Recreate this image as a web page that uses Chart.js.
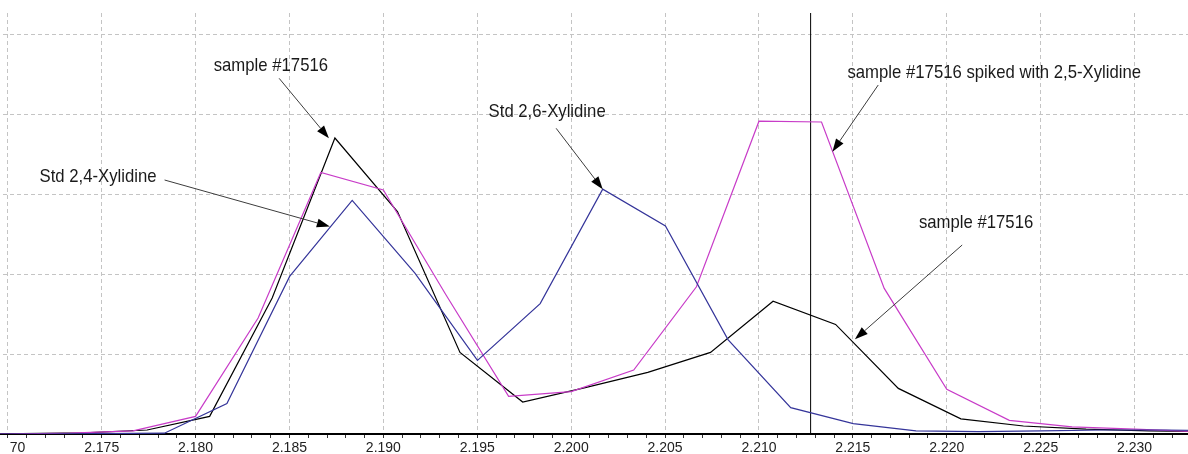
<!DOCTYPE html>
<html>
<head>
<meta charset="utf-8">
<script src="https://cdn.jsdelivr.net/npm/chart.js@4.4.1/dist/chart.umd.min.js"></script>
<style>
  html, body { margin: 0; padding: 0; background: #fff; overflow: hidden; }
  #frame { position: relative; width: 1188px; height: 454px; overflow: hidden; background: #fff; }
  #box { position: absolute; left: -60px; top: 0; width: 1308px; height: 454px; }
  #edge { position: absolute; left: 0; top: 438px; width: 9.5px; height: 16px; background: #fff; }
</style>
</head>
<body>
<div id="frame">
  <div id="box"><canvas id="c"></canvas></div>
  <div id="edge"></div>
</div>
<script>
// Retention time (min) and detector response for each trace
const sampleTimes = [2.16741, 2.17074, 2.17408, 2.17742, 2.18075, 2.18408, 2.18742, 2.19075, 2.19408, 2.19742, 2.20075,
  2.20408, 2.20742, 2.21075, 2.21408, 2.21742, 2.22075, 2.22408, 2.22742, 2.23075, 2.23408, 2.23742];
const sampleValues = [0, 0.005, 0.015, 0.05, 0.22, 1.70, 3.70, 2.78, 1.02, 0.40, 0.58,
  0.77, 1.02, 1.66, 1.37, 0.57, 0.19, 0.10, 0.06, 0.04, 0.03, 0.02];

const spikedTimes = [2.16667, 2.17000, 2.17333, 2.17667, 2.18000, 2.18333, 2.18667, 2.19000, 2.19333, 2.19667, 2.20000,
  2.20333, 2.20667, 2.21000, 2.21333, 2.21667, 2.22000, 2.22333, 2.22667, 2.23000, 2.23333];
const spikedValues = [0, 0, 0.01, 0.04, 0.22, 1.45, 3.27, 3.05, 1.74, 0.47, 0.53,
  0.80, 1.84, 3.91, 3.90, 1.82, 0.56, 0.17, 0.09, 0.06, 0.03];

const stdTimes = [2.16832, 2.17166, 2.17500, 2.17834, 2.18167, 2.18501, 2.18834, 2.19168, 2.19501, 2.19835, 2.20168,
  2.20502, 2.20835, 2.21169, 2.21502, 2.21836, 2.22169, 2.22503, 2.22836, 2.23170, 2.23503];
const stdValues = [0, 0, 0.005, 0.01, 0.38, 1.97, 2.92, 2.01, 0.92, 1.63, 3.06,
  2.60, 1.18, 0.33, 0.13, 0.04, 0.03, 0.04, 0.05, 0.05, 0.04];

// Cursor position on the time axis
const cursorTime = 2.21275;

// Axis settings
const xMin = 2.166392;
const xMax = 2.235893;
const yMax = 5.2625;
const xTickStep = 0.001;
const xLabelStep = 0.005;

// Callouts: text, text anchor (time, response), arrow start, arrow tip
const noteLabels = ['sample #17516', 'Std 2,4-Xylidine', 'Std 2,6-Xylidine',
  'sample #17516 spiked with 2,5-Xylidine', 'sample #17516'];
const noteTextAt = [[2.18401, 4.5375], [2.17481, 3.154], [2.19872, 3.966], [2.22253, 4.446], [2.22156, 2.575]];
const noteArrowFrom = [[2.18445, 4.446], [2.17835, 3.175], [2.19920, 3.821], [2.21635, 4.3625], [2.22082, 2.3625]];
const noteArrowTo = [[2.18710, 3.696], [2.18715, 2.594], [2.20168, 3.059], [2.21391, 3.529], [2.21511, 1.184]];

const pts = (ts, vs) => ts.map((t, i) => ({ x: t, y: vs[i] }));
const isMajor = v => Math.abs(v / xLabelStep - Math.round(v / xLabelStep)) < 1e-6;
const gridGrey = '#c4c4c4';

const notesPlugin = {
  id: 'notes',
  afterDatasetsDraw(chart) {
    const { ctx, scales: { x, y } } = chart;
    ctx.save();
    noteLabels.forEach((label, i) => {
      const tx = x.getPixelForValue(noteTextAt[i][0]);
      const ty = y.getPixelForValue(noteTextAt[i][1]);
      ctx.save();
      ctx.translate(tx, ty);
      ctx.scale(0.88, 1);
      ctx.font = '19px "Liberation Sans", Arial, sans-serif';
      ctx.textAlign = 'center';
      ctx.textBaseline = 'alphabetic';
      ctx.fillStyle = '#1a1a1a';
      ctx.fillText(label, 0, 0);
      ctx.restore();

      const x0 = x.getPixelForValue(noteArrowFrom[i][0]);
      const y0 = y.getPixelForValue(noteArrowFrom[i][1]);
      const x1 = x.getPixelForValue(noteArrowTo[i][0]);
      const y1 = y.getPixelForValue(noteArrowTo[i][1]);
      const ang = Math.atan2(y1 - y0, x1 - x0);
      const headLen = 13, headHalf = 4.5;
      const bx = x1 - headLen * Math.cos(ang), by = y1 - headLen * Math.sin(ang);
      ctx.strokeStyle = '#3c3c3c';
      ctx.lineWidth = 1;
      ctx.beginPath();
      ctx.moveTo(x0, y0);
      ctx.lineTo(bx, by);
      ctx.stroke();
      ctx.fillStyle = '#000';
      ctx.beginPath();
      ctx.moveTo(x1, y1);
      ctx.lineTo(bx + headHalf * Math.sin(ang), by - headHalf * Math.cos(ang));
      ctx.lineTo(bx - headHalf * Math.sin(ang), by + headHalf * Math.cos(ang));
      ctx.closePath();
      ctx.fill();
    });
    ctx.restore();
  }
};

const lineStyle = { pointRadius: 0, borderWidth: 1.2, tension: 0, fill: false };

new Chart(document.getElementById('c'), {
  type: 'line',
  data: {
    datasets: [
      { label: 'Std 2,4-/2,6-Xylidine', data: pts(stdTimes, stdValues), borderColor: '#35359a', ...lineStyle },
      { label: 'sample #17516 spiked with 2,5-Xylidine', data: pts(spikedTimes, spikedValues), borderColor: '#c83cc8', ...lineStyle },
      { label: 'sample #17516', data: pts(sampleTimes, sampleValues), borderColor: '#000000', ...lineStyle },
      { label: 'cursor', data: [{ x: cursorTime, y: 0 }, { x: cursorTime, y: yMax }], borderColor: '#000000', ...lineStyle, borderWidth: 1 }
    ]
  },
  options: {
    responsive: true,
    maintainAspectRatio: false,
    animation: false,
    devicePixelRatio: 1,
    layout: { padding: { top: 13, left: 0, right: 0, bottom: 0 } },
    plugins: { legend: { display: false }, tooltip: { enabled: false } },
    scales: {
      x: {
        type: 'linear',
        min: xMin,
        max: xMax,
        afterFit: s => { s.height = 20; },
        ticks: {
          stepSize: xTickStep,
          includeBounds: false,
          autoSkip: false,
          maxRotation: 0,
          padding: 2,
          color: '#222',
          font: { family: '"Liberation Sans", Arial, sans-serif', size: 14 },
          callback: v => isMajor(v) ? v.toFixed(3) : ''
        },
        grid: {
          color: c => (c.tick && isMajor(c.tick.value)) ? gridGrey : 'rgba(0,0,0,0)',
          tickColor: '#333',
          tickLength: 4,
          lineWidth: 1
        },
        border: { display: true, color: '#000', width: 2, dash: [4, 3] }
      },
      y: {
        type: 'linear',
        min: 0,
        max: yMax,
        afterFit: s => { s.width = 0; },
        ticks: { display: false, stepSize: 1, includeBounds: false },
        grid: {
          drawTicks: false,
          color: c => (c.tick && c.tick.value > 0) ? gridGrey : 'rgba(0,0,0,0)',
          lineWidth: 1
        },
        border: { display: false, dash: [4, 3] }
      }
    }
  },
  plugins: [notesPlugin]
});
</script>
</body>
</html>
